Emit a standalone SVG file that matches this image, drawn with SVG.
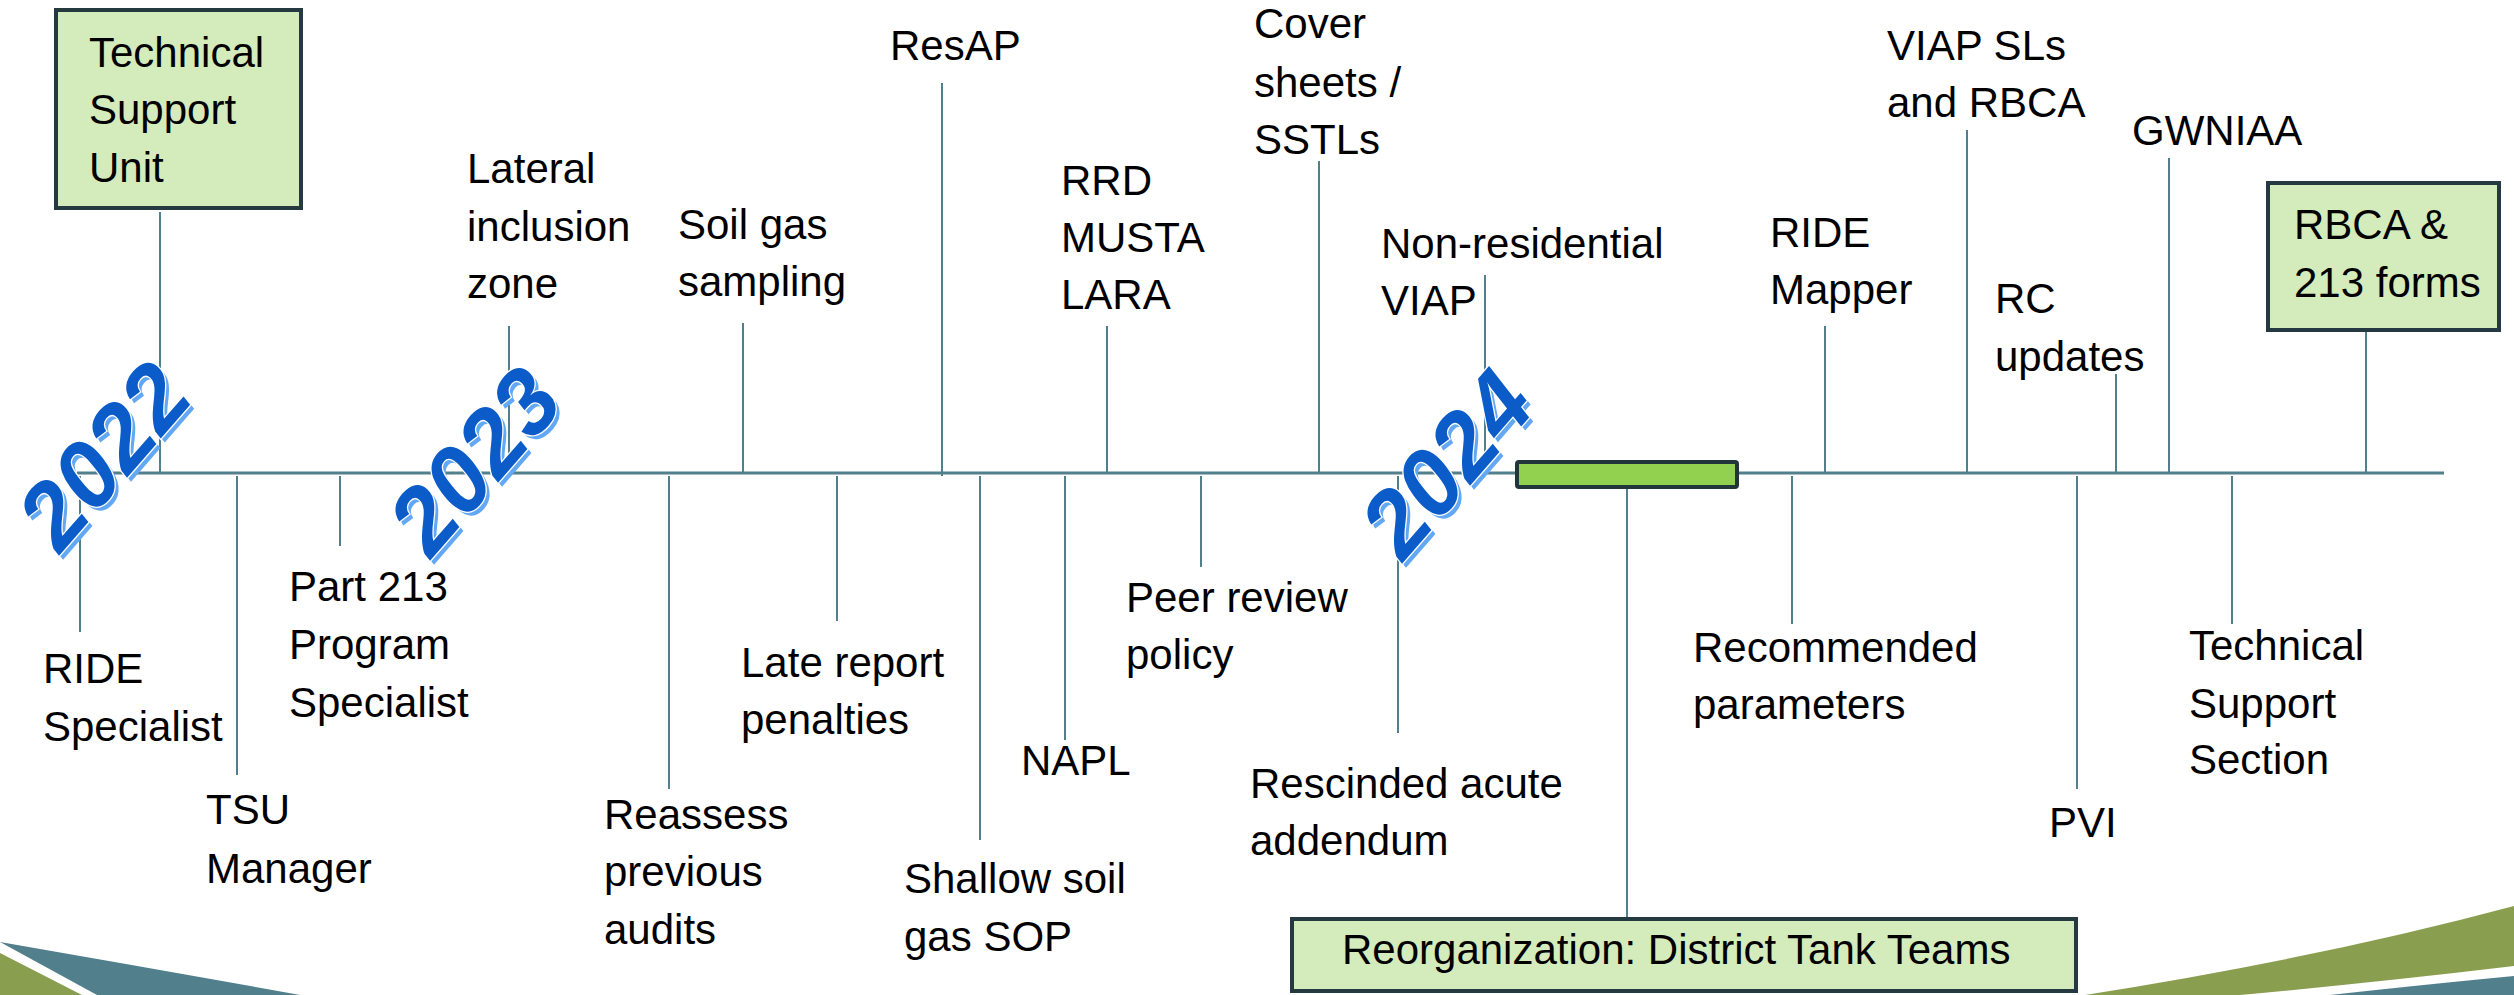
<svg xmlns="http://www.w3.org/2000/svg" width="2514" height="995" viewBox="0 0 2514 995">
<style>
.t{font-family:"Liberation Sans",Arial,sans-serif;font-size:42px;fill:#000}
.c{stroke:#527F8C;stroke-width:2;fill:none}
.axis{stroke:#527F8C;stroke-width:3;fill:none}
.box{fill:#D4EBBC;stroke:#243A40;stroke-width:4}
.yr{font-family:"Liberation Sans",Arial,sans-serif;font-size:93px;font-weight:bold;font-style:italic;text-anchor:middle}
.yrs{fill:#63A8F5}
.yrm{fill:#0B5CC9;stroke:#fff;stroke-width:2.5;paint-order:stroke}
</style>
<rect width="2514" height="995" fill="#fff"/>
<g id="decor">
<path d="M0,942 Q150,968 300,995 L97,995 Z" fill="#527F8C"/>
<path d="M0,953 L82,995 L0,995 Z" fill="#8A9E50"/>
<path d="M2085,995 Q2320,958 2514,906 L2514,966 Q2380,982 2240,995 Z" fill="#8A9E50"/>
<path d="M2330,995 Q2430,984 2514,976 L2514,995 Z" fill="#527F8C"/>
</g>
<g id="connectors">
<line class="axis" x1="77" y1="473" x2="2444" y2="473"/>
<line class="c" x1="160" y1="212" x2="160" y2="473"/>
<line class="c" x1="509" y1="326" x2="509" y2="473"/>
<line class="c" x1="743" y1="323" x2="743" y2="473"/>
<line class="c" x1="942" y1="83" x2="942" y2="476"/>
<line class="c" x1="1107" y1="326" x2="1107" y2="473"/>
<line class="c" x1="1319" y1="161" x2="1319" y2="473"/>
<line class="c" x1="1485" y1="275" x2="1485" y2="473"/>
<line class="c" x1="1825" y1="326" x2="1825" y2="473"/>
<line class="c" x1="1967" y1="130" x2="1967" y2="473"/>
<line class="c" x1="2116" y1="374" x2="2116" y2="473"/>
<line class="c" x1="2169" y1="158" x2="2169" y2="473"/>
<line class="c" x1="2366" y1="331" x2="2366" y2="473"/>
<line class="c" x1="80" y1="476" x2="80" y2="632"/>
<line class="c" x1="237" y1="476" x2="237" y2="775"/>
<line class="c" x1="340" y1="476" x2="340" y2="546"/>
<line class="c" x1="669" y1="476" x2="669" y2="789"/>
<line class="c" x1="837" y1="476" x2="837" y2="621"/>
<line class="c" x1="980" y1="476" x2="980" y2="840"/>
<line class="c" x1="1065" y1="476" x2="1065" y2="740"/>
<line class="c" x1="1201" y1="476" x2="1201" y2="567"/>
<line class="c" x1="1398" y1="476" x2="1398" y2="733"/>
<line class="c" x1="1627" y1="487" x2="1627" y2="918"/>
<line class="c" x1="1792" y1="476" x2="1792" y2="624"/>
<line class="c" x1="2077" y1="476" x2="2077" y2="789"/>
<line class="c" x1="2232" y1="476" x2="2232" y2="624"/>
</g>
<g id="bar2024"><rect x="1517" y="462" width="220" height="25" rx="2" fill="#92D050" stroke="#22353B" stroke-width="4"/></g>
<g id="n-tsu-unit"><rect class="box" x="56" y="10" width="245" height="198"/>
<text class="t" x="89" y="67">Technical</text><text class="t" x="89" y="124">Support</text><text class="t" x="89" y="182">Unit</text></g>
<g id="n-lateral"><text class="t" x="467" y="183">Lateral</text><text class="t" x="467" y="241">inclusion</text><text class="t" x="467" y="298">zone</text></g>
<g id="n-soilgas"><text class="t" x="678" y="239">Soil gas</text><text class="t" x="678" y="296">sampling</text></g>
<g id="n-resap"><text class="t" x="890" y="60">ResAP</text></g>
<g id="n-rrd"><text class="t" x="1061" y="195">RRD</text><text class="t" x="1061" y="252">MUSTA</text><text class="t" x="1061" y="309">LARA</text></g>
<g id="n-cover"><text class="t" x="1254" y="38">Cover</text><text class="t" x="1254" y="97">sheets /</text><text class="t" x="1254" y="154">SSTLs</text></g>
<g id="n-nonres"><text class="t" x="1381" y="258">Non-residential</text><text class="t" x="1381" y="315">VIAP</text></g>
<g id="n-ridemapper"><text class="t" x="1770" y="247">RIDE</text><text class="t" x="1770" y="304">Mapper</text></g>
<g id="n-viapsls"><text class="t" x="1887" y="60">VIAP SLs</text><text class="t" x="1887" y="117">and RBCA</text></g>
<g id="n-rc"><text class="t" x="1995" y="313">RC</text><text class="t" x="1995" y="371">updates</text></g>
<g id="n-gwniaa"><text class="t" x="2132" y="145">GWNIAA</text></g>
<g id="n-rbca"><rect class="box" x="2268" y="183" width="231" height="147"/>
<text class="t" x="2294" y="239">RBCA &amp;</text><text class="t" x="2294" y="297">213 forms</text></g>
<g id="n-ridespec"><text class="t" x="43" y="683">RIDE</text><text class="t" x="43" y="741">Specialist</text></g>
<g id="n-tsumgr"><text class="t" x="206" y="824">TSU</text><text class="t" x="206" y="883">Manager</text></g>
<g id="n-part213"><text class="t" x="289" y="601">Part 213</text><text class="t" x="289" y="659">Program</text><text class="t" x="289" y="717">Specialist</text></g>
<g id="n-reassess"><text class="t" x="604" y="829">Reassess</text><text class="t" x="604" y="886">previous</text><text class="t" x="604" y="944">audits</text></g>
<g id="n-late"><text class="t" x="741" y="677">Late report</text><text class="t" x="741" y="734">penalties</text></g>
<g id="n-shallow"><text class="t" x="904" y="893">Shallow soil</text><text class="t" x="904" y="951">gas SOP</text></g>
<g id="n-napl"><text class="t" x="1021" y="775">NAPL</text></g>
<g id="n-peer"><text class="t" x="1126" y="612">Peer review</text><text class="t" x="1126" y="669">policy</text></g>
<g id="n-rescinded"><text class="t" x="1250" y="798">Rescinded acute</text><text class="t" x="1250" y="855">addendum</text></g>
<g id="n-recommended"><text class="t" x="1693" y="662">Recommended</text><text class="t" x="1693" y="719">parameters</text></g>
<g id="n-pvi"><text class="t" x="2049" y="837">PVI</text></g>
<g id="n-tss"><text class="t" x="2189" y="660">Technical</text><text class="t" x="2189" y="718">Support</text><text class="t" x="2189" y="774">Section</text></g>
<g id="n-reorg"><rect class="box" x="1292" y="919" width="784" height="72"/>
<text class="t" x="1342" y="964">Reorganization: District Tank Teams</text></g>
<g id="y2022"><g transform="translate(107,459) rotate(-49)"><text class="yr yrs" x="0" y="33">2022</text></g>
<g transform="translate(103,455) rotate(-49)"><text class="yr yrm" x="0" y="33">2022</text></g></g>
<g id="y2023"><g transform="translate(478,464) rotate(-49)"><text class="yr yrs" x="0" y="33">2023</text></g>
<g transform="translate(474,460) rotate(-49)"><text class="yr yrm" x="0" y="33">2023</text></g></g>
<g id="y2024"><g transform="translate(1450,467) rotate(-49)"><text class="yr yrs" x="0" y="33">2024</text></g>
<g transform="translate(1446,463) rotate(-49)"><text class="yr yrm" x="0" y="33">2024</text></g></g>
</svg>
